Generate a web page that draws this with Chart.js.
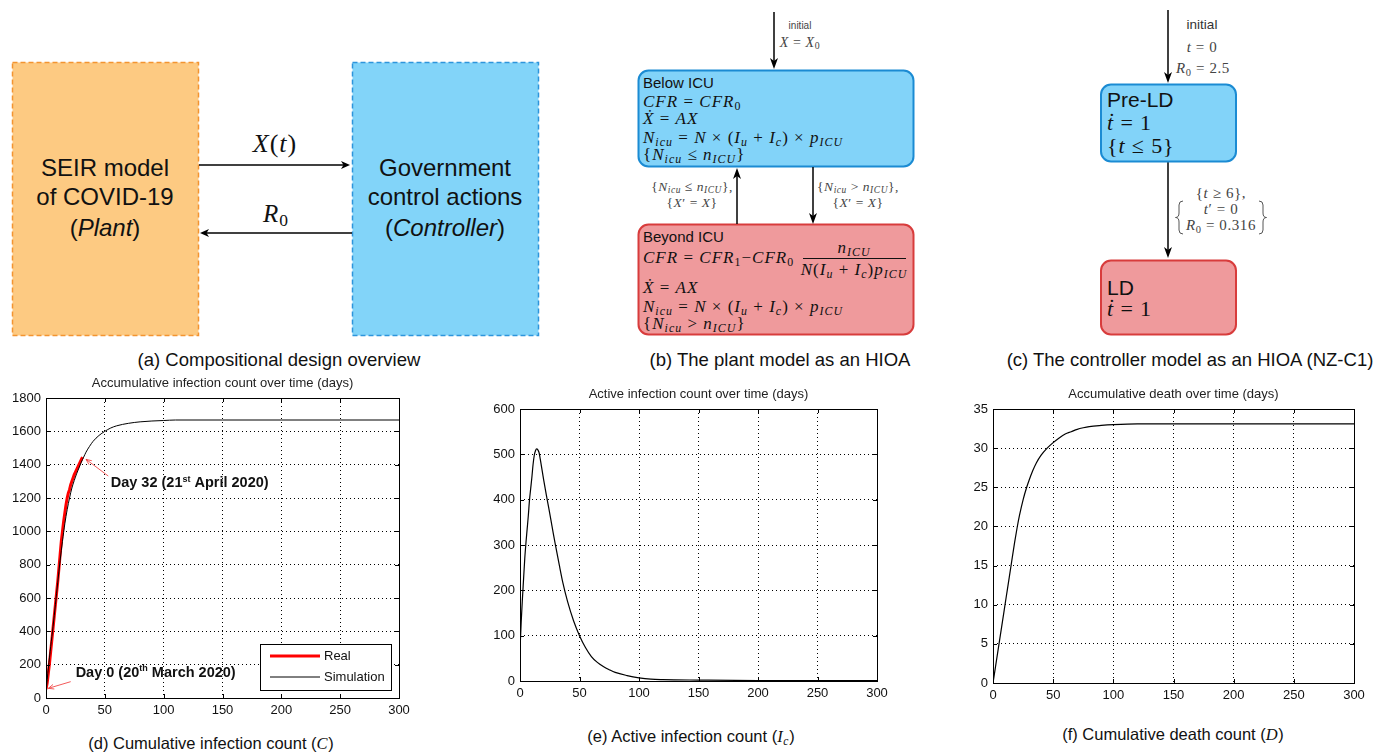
<!DOCTYPE html>
<html>
<head>
<meta charset="utf-8">
<title>COVID-19 NZ model figure</title>
<script src="https://cdn.jsdelivr.net/npm/chart.js@4.4.1/dist/chart.umd.min.js"></script>
<style>
  body { margin: 0; background: #fff; }
  #page { position: relative; width: 1377px; height: 752px; overflow: hidden; font-family: "Liberation Sans", Arial, sans-serif; color: #111; }
  .t { position: absolute; white-space: nowrap; line-height: 1; }
  .c { transform: translate(-50%, -50%); }
  .l { transform: translateY(-50%); }
  .m { font-family: "Liberation Serif", "DejaVu Serif", serif; letter-spacing: 0.04em; }
  .bx { font-size: 17px; letter-spacing: 0.06em; }
  .m i { font-style: italic; }
  .m sub { font-size: 0.7em; vertical-align: baseline; position: relative; top: 0.25em; line-height: 0; }
  .cap { font-size: 18.5px; }
  .cap2 { font-size: 16.5px; }
  .lbl { color: #444; }
  canvas { position: absolute; }
</style>
</head>
<body>
<div id="page">

  <!-- shapes of the three diagrams (a) (b) (c) -->
  <svg class="t" style="left:0;top:0" width="1377" height="345">
    <rect x="12.5" y="62.5" width="186" height="273" fill="#fdca82" stroke="#f39430" stroke-width="1.5" stroke-dasharray="5 3"/>
    <rect x="352.5" y="62.5" width="186" height="273" fill="#82d4f9" stroke="#2d95dc" stroke-width="1.5" stroke-dasharray="5 3"/>
    <g stroke="#000" stroke-width="1.3">
      <line x1="199" y1="165" x2="344" y2="165"/>
      <line x1="206" y1="233" x2="352" y2="233"/>
    </g>
    <path d="M350,165 L341,161 L343.5,165 L341,169 Z"/>
    <path d="M200,233 L209,229 L206.5,233 L209,237 Z"/>

    <rect x="638.5" y="70.5" width="275" height="96" rx="10" fill="#82d3f9" stroke="#1b8bd3" stroke-width="2"/>
    <rect x="638.5" y="224.5" width="275" height="110" rx="10" fill="#ef9a9c" stroke="#d83c3c" stroke-width="2"/>
    <g stroke="#000" stroke-width="1.5">
      <line x1="774" y1="12" x2="774" y2="62"/>
      <line x1="737" y1="224" x2="737" y2="176"/>
      <line x1="813" y1="167" x2="813" y2="216"/>
      <line x1="1168" y1="10" x2="1168" y2="76"/>
      <line x1="1168" y1="161" x2="1168" y2="251"/>
    </g>
    <path d="M774,69 L770,58 L774,61 L778,58 Z"/>
    <path d="M737,168 L733,179 L737,176 L741,179 Z"/>
    <path d="M813,224 L809,213 L813,216 L817,213 Z"/>
    <path d="M1168,83 L1164,72 L1168,75 L1172,72 Z"/>
    <path d="M1168,258 L1164,247 L1168,250 L1172,247 Z"/>
    <line x1="803" y1="258.5" x2="906" y2="258.5" stroke="#111" stroke-width="1"/>

    <rect x="1101" y="84.5" width="135" height="77" rx="10" fill="#82d3f9" stroke="#1b8bd3" stroke-width="2"/>
    <rect x="1101" y="260.5" width="135" height="74" rx="10" fill="#ef9a9c" stroke="#d83c3c" stroke-width="2"/>
    <g fill="none" stroke="#555" stroke-width="1">
      <path d="M1183,201 Q1179,201 1179,205 L1179,213 Q1179,217.5 1175.5,217.5 Q1179,217.5 1179,222 L1179,230 Q1179,234 1183,234"/>
      <path d="M1259,201 Q1263,201 1263,205 L1263,213 Q1263,217.5 1266.5,217.5 Q1263,217.5 1263,222 L1263,230 Q1263,234 1259,234"/>
    </g>
  </svg>

  <!-- (a) -->
  <div class="t c" style="left:105px;top:168px;font-size:24px">SEIR model</div>
  <div class="t c" style="left:105px;top:197px;font-size:24px">of COVID-19</div>
  <div class="t c" style="left:105px;top:228px;font-size:24px">(<i>Plant</i>)</div>
  <div class="t c" style="left:445px;top:168px;font-size:24px">Government</div>
  <div class="t c" style="left:445px;top:197px;font-size:24px">control actions</div>
  <div class="t c" style="left:445px;top:228px;font-size:24px">(<i>Controller</i>)</div>
  <div class="t c m" style="left:275px;top:144px;font-size:26px" data-m="X(t)"></div>
  <div class="t c m" style="left:276px;top:213px;font-size:25px" data-m="R_0"></div>
  <div class="t c cap" style="left:279px;top:360px">(a) Compositional design overview</div>

  <!-- (b) -->
  <div class="t c lbl" style="left:800px;top:26px;font-size:10px">initial</div>
  <div class="t c m lbl" style="left:800px;top:43px;font-size:14px" data-m="X = X_0"></div>
  <div class="t l" style="left:643px;top:82px;font-size:15px">Below ICU</div>
  <div class="t l m bx" style="left:643px;top:101px" data-m="CFR = CFR_0"></div>
  <div class="t l m bx" style="left:643px;top:118px" data-m="X&#775; = AX"></div>
  <div class="t l m bx" style="left:643px;top:137px" data-m="N_{icu} = N × (I_u + I_c) × p_{ICU}"></div>
  <div class="t l m bx" style="left:643px;top:154px" data-m="{N_{icu} ≤ n_{ICU}}"></div>
  <div class="t c m lbl" style="left:692px;top:187px;font-size:13.5px" data-m="{N_{icu} ≤ n_{ICU}},"></div>
  <div class="t c m lbl" style="left:692px;top:203px;font-size:13.5px" data-m="{X′ = X}"></div>
  <div class="t c m lbl" style="left:858px;top:187px;font-size:13.5px" data-m="{N_{icu} > n_{ICU}},"></div>
  <div class="t c m lbl" style="left:858px;top:203px;font-size:13.5px" data-m="{X′ = X}"></div>
  <div class="t l" style="left:643px;top:236px;font-size:15px">Beyond ICU</div>
  <div class="t l m bx" style="left:643px;top:257px" data-m="CFR = CFR_1−CFR_0"></div>
  <div class="t c m bx" style="left:854px;top:247px" data-m="n_{ICU}"></div>
  <div class="t c m bx" style="left:854px;top:269px" data-m="N(I_u + I_c)p_{ICU}"></div>
  <div class="t l m bx" style="left:643px;top:287px" data-m="X&#775; = AX"></div>
  <div class="t l m bx" style="left:643px;top:306px" data-m="N_{icu} = N × (I_u + I_c) × p_{ICU}"></div>
  <div class="t l m bx" style="left:643px;top:323px" data-m="{N_{icu} > n_{ICU}}"></div>
  <div class="t c cap" style="left:780px;top:360px">(b) The plant model as an HIOA</div>

  <!-- (c) -->
  <div class="t c" style="left:1202px;top:25px;font-size:13.5px;color:#333">initial</div>
  <div class="t c m lbl" style="left:1202px;top:47px;font-size:15px" data-m="t = 0"></div>
  <div class="t c m lbl" style="left:1203px;top:68px;font-size:15px" data-m="R_0 = 2.5"></div>
  <div class="t l" style="left:1107px;top:99px;font-size:21px">Pre-LD</div>
  <div class="t l m" style="left:1107px;top:123px;font-size:22px" data-m="t&#775; = 1"></div>
  <div class="t l m" style="left:1107px;top:146px;font-size:22px" data-m="{t ≤ 5}"></div>
  <div class="t c m lbl" style="left:1221px;top:193px;font-size:15px" data-m="{t ≥ 6},"></div>
  <div class="t c m lbl" style="left:1221px;top:209px;font-size:15px" data-m="t′ = 0"></div>
  <div class="t c m lbl" style="left:1221px;top:225px;font-size:15px" data-m="R_0 = 0.316"></div>
  <div class="t l" style="left:1107px;top:287px;font-size:21px">LD</div>
  <div class="t l m" style="left:1107px;top:309px;font-size:22px" data-m="t&#775; = 1"></div>
  <div class="t c cap" style="left:1190px;top:360px">(c) The controller model as an HIOA (NZ-C1)</div>

  <!-- (d) (e) (f) -->
  <canvas id="cumChart"></canvas>
  <canvas id="activeChart"></canvas>
  <canvas id="deathChart"></canvas>
  <div class="t c cap2" style="left:211px;top:744px">(d) Cumulative infection count (<span class="m"><i>C</i></span>)</div>
  <div class="t c cap2" style="left:691px;top:737px">(e) Active infection count (<span class="m" data-m="I_c"></span>)</div>
  <div class="t c cap2" style="left:1173px;top:735px">(f) Cumulative death count (<span class="m"><i>D</i></span>)</div>
</div>

<script>
// ===== data (x = days since 20 March 2020) =====
const dayTicks = [0, 50, 100, 150, 200, 250, 300];
const caseTicks = [0, 200, 400, 600, 800, 1000, 1200, 1400, 1600, 1800];
const activeTicks = [0, 100, 200, 300, 400, 500, 600];
const deathTicks = [0, 5, 10, 15, 20, 25, 30, 35];

const simDays = [0, 1, 2, 3, 4, 5, 6, 8, 10, 12, 14, 16, 18, 20, 22, 24, 26, 28, 30, 32, 34, 37, 40, 45, 50, 55, 60, 70, 80, 90, 100, 110, 150, 200, 250, 300];
const simCases = [40, 110, 180, 245, 310, 370, 430, 560, 695, 825, 940, 1045, 1130, 1200, 1260, 1305, 1345, 1380, 1415, 1445, 1475, 1510, 1540, 1575, 1600, 1620, 1633, 1648, 1657, 1662, 1665, 1668, 1668, 1668, 1668, 1668];

const realDays = [0, 1, 2, 3, 4, 5, 6, 7, 8, 9, 10, 11, 12, 13, 14, 15, 16, 17, 18, 19, 20, 21, 22, 23, 24, 25, 26, 27, 28, 29, 30, 31];
const realCases = [52, 90, 150, 210, 280, 350, 420, 490, 560, 630, 700, 780, 860, 940, 1000, 1060, 1110, 1160, 1200, 1230, 1250, 1280, 1300, 1320, 1340, 1355, 1370, 1385, 1400, 1415, 1430, 1445];

const activeDays = [0, 1, 2, 3, 4, 5, 6, 7, 8, 9, 10, 11, 12, 13, 14, 15, 16, 17, 18, 19, 20, 22, 24, 26, 28, 30, 33, 36, 40, 45, 50, 55, 60, 65, 70, 75, 80, 90, 100, 110, 120, 150, 200, 250, 300];
const activeCases = [68, 130, 180, 225, 270, 305, 335, 365, 400, 425, 450, 478, 498, 508, 512, 510, 504, 490, 474, 458, 442, 412, 384, 355, 325, 297, 256, 217, 175, 133, 100, 74, 54, 41, 32, 25, 19, 12, 7, 4, 3, 2, 1, 1, 1];

const deathDays = [0, 2, 5, 8, 10, 12, 15, 18, 20, 22, 25, 28, 30, 33, 36, 40, 45, 50, 55, 60, 65, 70, 75, 80, 90, 100, 120, 150, 200, 250, 300];
const deaths = [0, 2, 5, 8, 10, 12, 15, 18, 19.8, 21.4, 23.4, 25, 25.9, 27.1, 28.1, 29.1, 30, 30.7, 31.3, 31.8, 32.1, 32.4, 32.6, 32.75, 32.9, 33, 33.1, 33.1, 33.1, 33.1, 33.1];

// annotations on (d), in data coordinates
const dayNotes = [
  { main: 'Day 32 (21', sup: 'st', rest: ' April 2020)', at: [55, 1288], from: [52.9, 1332], to: [34, 1432] },
  { main: 'Day 0 (20', sup: 'th', rest: ' March 2020)', at: [25.2, 152], from: [21, 98], to: [2, 58] }
];

// ===== tiny math typesetter for the diagram labels =====
function tex(src) {
  let out = '', i = 0;
  while (i < src.length) {
    const ch = src[i];
    if (ch === '_') {
      let sub;
      if (src[i + 1] === '{') { const j = src.indexOf('}', i); sub = src.slice(i + 2, j); i = j + 1; }
      else { sub = src[i + 1]; i += 2; }
      out += '<sub>' + tex(sub) + '</sub>';
      continue;
    }
    if (/[A-Za-z]/.test(ch)) {
      let g = ch;
      if (src[i + 1] === '\u0307') { g += '\u0307'; i++; }
      out += '<i>' + g + '</i>';
    } else if (ch === '<') out += '&lt;';
    else if (ch === '>') out += '&gt;';
    else out += ch;
    i++;
  }
  return out;
}
document.querySelectorAll('[data-m]').forEach(el => { el.innerHTML = tex(el.dataset.m); });

// ===== charts =====
Chart.defaults.font.family = '"Liberation Sans", Arial, sans-serif';
Chart.defaults.color = '#111';

const pairs = (xs, ys) => xs.map((x, i) => ({ x: x, y: ys[i] }));

// MATLAB style box with inward ticks
const matlabBox = {
  id: 'matlabBox',
  afterDatasetsDraw(chart) {
    const { ctx, chartArea: a, scales: { x, y } } = chart;
    ctx.save();
    ctx.strokeStyle = '#000'; ctx.lineWidth = 1;
    ctx.beginPath();
    x.ticks.forEach(t => {
      const px = Math.round(x.getPixelForValue(t.value)) + 0.5;
      ctx.moveTo(px, a.bottom); ctx.lineTo(px, a.bottom - 4);
      ctx.moveTo(px, a.top); ctx.lineTo(px, a.top + 4);
    });
    y.ticks.forEach(t => {
      const py = Math.round(y.getPixelForValue(t.value)) + 0.5;
      ctx.moveTo(a.left, py); ctx.lineTo(a.left + 4, py);
      ctx.moveTo(a.right, py); ctx.lineTo(a.right - 4, py);
    });
    ctx.stroke();
    ctx.strokeRect(Math.round(a.left) + 0.5, Math.round(a.top) + 0.5, Math.round(a.width), Math.round(a.height));
    ctx.restore();
  }
};

// legend box drawn inside the plot, bottom right
const insideLegend = {
  id: 'insideLegend',
  afterDraw(chart) {
    const { ctx, chartArea: a } = chart;
    const w = 131, h = 46, x = Math.round(a.right - 8 - w), y = Math.round(a.bottom - 8 - h);
    ctx.save();
    ctx.fillStyle = '#fff'; ctx.fillRect(x, y, w, h);
    ctx.strokeStyle = '#000'; ctx.lineWidth = 1; ctx.strokeRect(x + 0.5, y + 0.5, w, h);
    ctx.font = '13px "Liberation Sans", Arial, sans-serif'; ctx.textBaseline = 'middle'; ctx.fillStyle = '#111';
    chart.data.datasets.forEach((ds, i) => {
      const ly = y + 12 + i * 21;
      ctx.strokeStyle = ds.borderColor; ctx.lineWidth = ds.borderWidth;
      ctx.beginPath(); ctx.moveTo(x + 10, ly); ctx.lineTo(x + 60, ly); ctx.stroke();
      ctx.fillText(ds.label, x + 64, ly);
    });
    ctx.restore();
  }
};

// "Day 32" / "Day 0" call-outs
const dayCallouts = {
  id: 'dayCallouts',
  afterDatasetsDraw(chart) {
    const { ctx, scales: { x, y } } = chart;
    const P = p => [x.getPixelForValue(p[0]), y.getPixelForValue(p[1])];
    ctx.save();
    dayNotes.forEach(n => {
      const [fx, fy] = P(n.from), [tx, ty] = P(n.to);
      ctx.strokeStyle = '#f03030'; ctx.lineWidth = 0.8;
      ctx.beginPath(); ctx.moveTo(fx, fy); ctx.lineTo(tx, ty); ctx.stroke();
      const ang = Math.atan2(ty - fy, tx - fx);
      ctx.beginPath();
      ctx.moveTo(tx - 6 * Math.cos(ang - 0.4), ty - 6 * Math.sin(ang - 0.4));
      ctx.lineTo(tx, ty);
      ctx.lineTo(tx - 6 * Math.cos(ang + 0.4), ty - 6 * Math.sin(ang + 0.4));
      ctx.stroke();

      let [px, py] = P(n.at);
      ctx.fillStyle = '#111'; ctx.textBaseline = 'middle';
      ctx.font = 'bold 14.5px "Liberation Sans", Arial, sans-serif';
      ctx.fillText(n.main, px, py); px += ctx.measureText(n.main).width;
      ctx.font = 'bold 9px "Liberation Sans", Arial, sans-serif';
      ctx.fillText(n.sup, px, py - 4); px += ctx.measureText(n.sup).width;
      ctx.font = 'bold 14.5px "Liberation Sans", Arial, sans-serif';
      ctx.fillText(n.rest, px, py);
    });
    ctx.restore();
  }
};

function makePlot(canvasId, area, title, datasets, xTicks, yTicks, extra) {
  const padL = 4, yAxisW = 42, titleH = 30, xAxisH = 24, padR = 22, padB = 2;
  const cv = document.getElementById(canvasId);
  cv.width = padL + yAxisW + (area.r - area.l) + padR;
  cv.height = titleH + (area.b - area.t) + xAxisH + padB;
  cv.style.left = (area.l - yAxisW - padL) + 'px';
  cv.style.top = (area.t - titleH) + 'px';
  const axis = (ticks, pad, fit) => ({
    type: 'linear', min: ticks[0], max: ticks[ticks.length - 1],
    ticks: { stepSize: ticks[1] - ticks[0], padding: pad, font: { size: 13 }, color: '#111', callback: v => String(v) },
    grid: { color: '#000', lineWidth: 1, drawTicks: false },
    border: { display: false, dash: [1, 3] },
    afterFit: fit
  });
  return new Chart(cv, {
    type: 'line',
    data: { datasets: datasets },
    options: {
      responsive: false, animation: false, events: [],
      layout: { padding: { left: padL, right: padR, top: 0, bottom: padB } },
      elements: { point: { radius: 0 } },
      scales: {
        x: axis(xTicks, 5, s => { s.height = xAxisH; }),
        y: axis(yTicks, 5, s => { s.width = yAxisW; })
      },
      plugins: {
        legend: { display: false }, tooltip: { enabled: false },
        title: { display: true, fullSize: false, text: title, color: '#222', font: { size: 13, weight: 'normal' }, padding: { top: 8, bottom: 6.4 } }
      }
    },
    plugins: [matlabBox].concat(extra || [])
  });
}

makePlot('cumChart', { l: 46, t: 398, r: 399, b: 698 }, 'Accumulative infection count over time (days)', [
  { label: 'Real', data: pairs(realDays, realCases), borderColor: '#ff0000', borderWidth: 3, order: 2 },
  { label: 'Simulation', data: pairs(simDays, simCases), borderColor: '#000', borderWidth: 1, cubicInterpolationMode: 'monotone', order: 1 }
], dayTicks, caseTicks, [dayCallouts, insideLegend]);

makePlot('activeChart', { l: 520, t: 409, r: 877, b: 681 }, 'Active infection count over time (days)', [
  { label: 'Active', data: pairs(activeDays, activeCases), borderColor: '#000', borderWidth: 1.2, cubicInterpolationMode: 'monotone' }
], dayTicks, activeTicks);

makePlot('deathChart', { l: 993, t: 409, r: 1354, b: 683 }, 'Accumulative death over time (days)', [
  { label: 'Deaths', data: pairs(deathDays, deaths), borderColor: '#000', borderWidth: 1.2, cubicInterpolationMode: 'monotone' }
], dayTicks, deathTicks);
</script>
</body>
</html>
